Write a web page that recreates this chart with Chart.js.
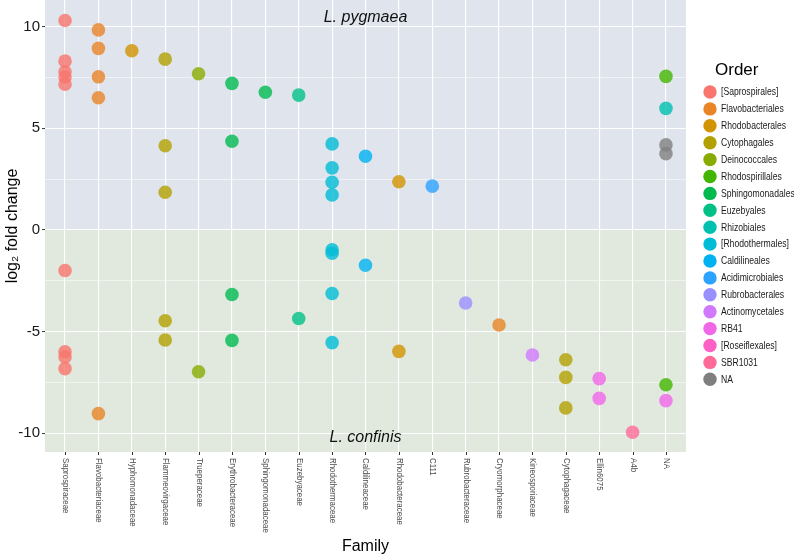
<!DOCTYPE html>
<html><head><meta charset="utf-8">
<script src="https://cdn.jsdelivr.net/npm/chart.js@4/dist/chart.umd.min.js"></script>
<style>html,body{margin:0;padding:0;background:#fff}#wrap{width:794px;height:556px;position:relative}</style>
</head><body><div id="wrap"><canvas id="c" width="794" height="556"></canvas></div>
<script>
const families = ["Saprospiraceae","Flavobacteriaceae","Hyphomonadaceae","Flammeovirgaceae","Trueperaceae","Erythrobacteraceae","Sphingomonadaceae","Euzebyaceae","Rhodothermaceae","Caldilineaceae","Rhodobacteraceae","C111","Rubrobacteraceae","Cryomorphaceae","Kineosporiaceae","Cytophagaceae","Ellin6075","A4b","NA"];
const orders = ["[Saprospirales]","Flavobacteriales","Rhodobacterales","Cytophagales","Deinococcales","Rhodospirillales","Sphingomonadales","Euzebyales","Rhizobiales","[Rhodothermales]","Caldilineales","Acidimicrobiales","Rubrobacterales","Actinomycetales","RB41","[Roseiflexales]","SBR1031","NA"];
const orderColors = ["#F8766D","#E88526","#D29400","#B2A000","#88AB00","#42B500","#00BA50","#00C086","#00C1B0","#00BCD6","#00B2F1","#2CA3FF","#998FFF","#D079FC","#F067E8","#FE61C6","#FF6A98","#7F7F7F"];
const yTicks = [-10, -5, 0, 5, 10];
const yMinorTicks = [-7.5, -2.5, 2.5, 7.5];

// one entry per point
const pointFamily = [
 "Saprospiraceae","Saprospiraceae","Saprospiraceae","Saprospiraceae","Saprospiraceae","Saprospiraceae","Saprospiraceae","Saprospiraceae","Saprospiraceae",
 "Flavobacteriaceae","Flavobacteriaceae","Flavobacteriaceae","Flavobacteriaceae","Flavobacteriaceae",
 "Hyphomonadaceae",
 "Flammeovirgaceae","Flammeovirgaceae","Flammeovirgaceae","Flammeovirgaceae","Flammeovirgaceae",
 "Trueperaceae","Trueperaceae",
 "Erythrobacteraceae","Erythrobacteraceae","Erythrobacteraceae","Erythrobacteraceae",
 "Sphingomonadaceae",
 "Euzebyaceae","Euzebyaceae",
 "Rhodothermaceae","Rhodothermaceae","Rhodothermaceae","Rhodothermaceae","Rhodothermaceae","Rhodothermaceae","Rhodothermaceae","Rhodothermaceae",
 "Caldilineaceae","Caldilineaceae",
 "Rhodobacteraceae","Rhodobacteraceae",
 "C111",
 "Rubrobacteraceae",
 "Cryomorphaceae",
 "Kineosporiaceae",
 "Cytophagaceae","Cytophagaceae","Cytophagaceae",
 "Ellin6075","Ellin6075",
 "A4b",
 "NA","NA","NA","NA","NA","NA"
];
const pointOrder = [
 "[Saprospirales]","[Saprospirales]","[Saprospirales]","[Saprospirales]","[Saprospirales]","[Saprospirales]","[Saprospirales]","[Saprospirales]","[Saprospirales]",
 "Flavobacteriales","Flavobacteriales","Flavobacteriales","Flavobacteriales","Flavobacteriales",
 "Rhodobacterales",
 "Cytophagales","Cytophagales","Cytophagales","Cytophagales","Cytophagales",
 "Deinococcales","Deinococcales",
 "Sphingomonadales","Sphingomonadales","Sphingomonadales","Sphingomonadales",
 "Sphingomonadales",
 "Euzebyales","Euzebyales",
 "[Rhodothermales]","[Rhodothermales]","[Rhodothermales]","[Rhodothermales]","[Rhodothermales]","[Rhodothermales]","[Rhodothermales]","[Rhodothermales]",
 "Caldilineales","Caldilineales",
 "Rhodobacterales","Rhodobacterales",
 "Acidimicrobiales",
 "Rubrobacterales",
 "Flavobacteriales",
 "Actinomycetales",
 "Cytophagales","Cytophagales","Cytophagales",
 "RB41","RB41",
 "SBR1031",
 "Rhodospirillales","Rhizobiales","NA","NA","Rhodospirillales","RB41"
];
const pointValue = [
 10.3, 8.3, 7.78, 7.52, 7.17, -2.0, -6.0, -6.25, -6.83,
 9.84, 8.93, 7.53, 6.5, -9.04,
 8.81,
 8.4, 4.14, 1.85, -4.47, -5.42,
 7.68, -6.98,
 7.21, 4.36, -3.18, -5.44,
 6.77,
 6.63, -4.36,
 4.23, 3.05, 2.34, 1.72, -0.98, -1.15, -3.13, -5.55,
 3.62, -1.74,
 2.37, -5.98,
 2.15,
 -3.6,
 -4.68,
 -6.16,
 -6.39, -7.26, -8.76,
 -7.32, -8.29,
 -9.96,
 7.55, 5.98, 4.18, 3.75, -7.62, -8.4
];
const panelLabels = ["L. pygmaea", "L. confinis"];
const panelLabelValues = [10.45, -10.2];

function withAlpha(hex, a) {
  const n = parseInt(hex.slice(1), 16);
  return `rgba(${(n>>16)&255},${(n>>8)&255},${n&255},${a})`;
}

const datasets = orders.map((o, oi) => ({
  label: o,
  data: pointValue.map((v, i) => pointOrder[i] === o ? {x: families.indexOf(pointFamily[i]), y: v} : null).filter(p => p),
  backgroundColor: withAlpha(orderColors[oi], 0.8),
  borderWidth: 0,
  pointRadius: 6.8,
  pointHoverRadius: 6.8
}));

const FONT = "'Liberation Sans', Arial, sans-serif";

const customDraw = {
  id: 'customDraw',
  beforeDraw(chart) {
    const {ctx, chartArea: a, scales: {y}} = chart;
    const y0 = y.getPixelForValue(0);
    ctx.save();
    ctx.fillStyle = '#E0E5ED';
    ctx.fillRect(a.left, a.top, a.right - a.left, y0 - a.top);
    ctx.fillStyle = '#E1E8DE';
    ctx.fillRect(a.left, y0, a.right - a.left, a.bottom - y0);
    ctx.restore();
  },
  afterDatasetsDraw(chart) {
    const {ctx, chartArea: a, scales: {x, y}} = chart;
    ctx.save();
    // panel labels
    ctx.fillStyle = '#111';
    ctx.font = "italic 16px " + FONT;
    ctx.textAlign = 'center';
    ctx.textBaseline = 'middle';
    panelLabels.forEach((t, i) => ctx.fillText(t, (a.left + a.right) / 2, y.getPixelForValue(panelLabelValues[i])));
    // x tick marks and rotated labels
    ctx.strokeStyle = '#333';
    ctx.lineWidth = 1;
    ctx.fillStyle = '#4D4D4D';
    ctx.font = "9px " + FONT;
    ctx.textAlign = 'left';
    families.forEach((f, i) => {
      const px = Math.round(x.getPixelForValue(i)) + 0.5;
      ctx.beginPath();
      ctx.moveTo(px, a.bottom);
      ctx.lineTo(px, a.bottom + 3);
      ctx.stroke();
      ctx.save();
      ctx.translate(px - 0.5, a.bottom + 6);
      ctx.rotate(Math.PI / 2);
      ctx.scale(0.88, 1);
      ctx.fillText(f, 0, 0);
      ctx.restore();
    });
    // legend
    ctx.fillStyle = '#000';
    ctx.font = "17px " + FONT;
    ctx.textAlign = 'left';
    ctx.fillText('Order', 715, 70);
    ctx.font = "10.5px " + FONT;
    chart.data.datasets.forEach((ds, i) => {
      const cy = 92 + 16.9 * i;
      ctx.fillStyle = orderColors[i];
      ctx.beginPath();
      ctx.arc(710, cy, 6.7, 0, Math.PI * 2);
      ctx.fill();
      ctx.fillStyle = '#1a1a1a';
      ctx.save();
      ctx.translate(721, cy + 0.5);
      ctx.scale(0.82, 1);
      ctx.fillText(ds.label, 0, 0);
      ctx.restore();
    });
    ctx.restore();
  }
};

new Chart(document.getElementById('c'), {
  type: 'scatter',
  data: {datasets},
  options: {
    responsive: false,
    devicePixelRatio: 1,
    animation: false,
    events: [],
    layout: {autoPadding: false, padding: {top: 0, right: 108, left: 0, bottom: 0}},
    plugins: {legend: {display: false}, tooltip: {enabled: false}},
    scales: {
      x: {
        type: 'linear', min: -0.6, max: 18.6,
        afterBuildTicks: s => { s.ticks = families.map((f, i) => ({value: i})); },
        afterFit: s => { s.height = 104; s.paddingLeft = 0; s.paddingRight = 0; },
        ticks: {display: false},
        grid: {color: '#FFFFFF', lineWidth: 1.1, drawTicks: false},
        border: {display: false},
        title: {display: true, text: 'Family', font: {size: 16, family: FONT}, color: '#000', padding: {top: 0, bottom: 0}}
      },
      y: {
        type: 'linear', min: -10.93, max: 11.31,
        afterBuildTicks: s => { s.ticks = yTicks.concat(yMinorTicks).sort((a, b) => a - b).map(v => ({value: v})); },
        afterFit: s => { s.width = 45; s.paddingTop = 0; s.paddingBottom = 0; },
        ticks: {
          callback: v => yTicks.includes(v) ? String(v) : '',
          font: {size: 15, family: FONT}, color: '#1a1a1a', padding: 2
        },
        grid: {
          color: '#FFFFFF',
          lineWidth: c => (c.tick && yTicks.includes(c.tick.value)) ? 1.1 : 0.5,
          tickColor: c => (c.tick && yTicks.includes(c.tick.value)) ? '#333' : 'rgba(0,0,0,0)',
          tickLength: 3, tickWidth: 1
        },
        border: {display: false},
        title: {display: true, text: 'log\u2082 fold change', font: {size: 16, family: FONT}, color: '#000', padding: {top: 3, bottom: 0}}
      }
    }
  },
  plugins: [customDraw]
});
</script>
</body></html>
